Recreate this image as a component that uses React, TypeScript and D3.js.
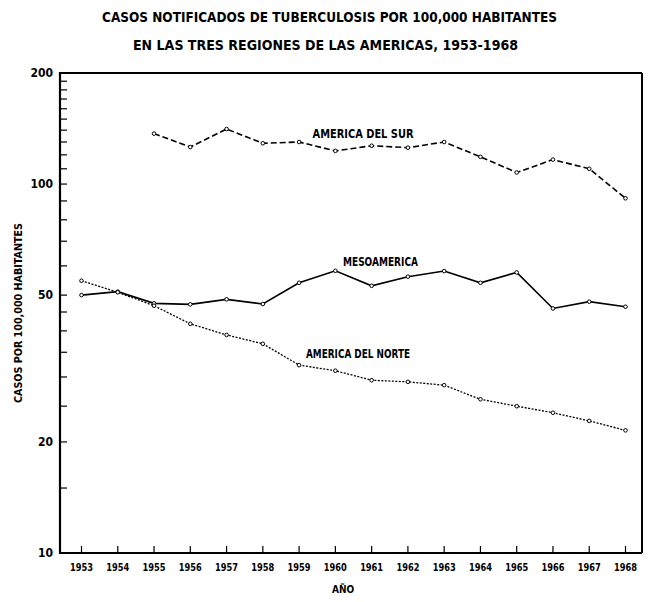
import React from "react";
import * as d3 from "d3";

const years = [1953, 1954, 1955, 1956, 1957, 1958, 1959, 1960, 1961, 1962, 1963, 1964, 1965, 1966, 1967, 1968];
const surYears = [1955, 1956, 1957, 1958, 1959, 1960, 1961, 1962, 1963, 1964, 1965, 1966, 1967, 1968];
const surValues = [137, 126, 141, 129, 130, 123, 127, 125.5, 130, 118.5, 107.5, 116.5, 110, 91.5];
const mesoValues = [50, 51.1, 47.5, 47.2, 48.7, 47.3, 54, 58.2, 53, 56.1, 58.1, 54, 57.6, 46, 48, 46.5];
const norteValues = [54.7, 50.9, 46.8, 41.8, 39, 36.9, 32.3, 31.2, 29.4, 29.1, 28.5, 26.1, 25, 24, 22.8, 21.5];
const yMajorTicks = [10, 20, 50, 100, 200];
const yMinorTicks = [15, 25, 30, 35, 40, 45, 60, 70, 80, 90, 110, 120, 130, 140, 150, 160, 170, 180, 190];

const titleLines = [
  "CASOS NOTIFICADOS DE TUBERCULOSIS POR 100,000 HABITANTES",
  "EN LAS TRES REGIONES DE LAS AMERICAS, 1953-1968",
];
const yLabel = "CASOS POR 100,000 HABITANTES";
const xLabel = "AÑO";
const seriesLabels = ["AMERICA DEL SUR", "MESOAMERICA", "AMERICA DEL NORTE"];

const FONT = "'Liberation Sans Narrow', 'DejaVu Sans Condensed', 'Roboto Condensed', sans-serif";

export default function App() {
  const W = 654, H = 602;
  const left = 60, right = 642, top = 73, bottom = 553;
  const x = d3.scaleLinear().domain([1953, 1968]).range([81.5, 625.5]);
  const y = d3.scaleLog().domain([10, 200]).range([bottom, top]);

  const line = d3.line<[number, number]>().x(d => x(d[0])).y(d => y(d[1]));
  const sur: [number, number][] = surYears.map((yr, i) => [yr, surValues[i]]);
  const meso: [number, number][] = years.map((yr, i) => [yr, mesoValues[i]]);
  const norte: [number, number][] = years.map((yr, i) => [yr, norteValues[i]]);

  const markers = (pts: [number, number][], key: string) =>
    pts.map((p, i) => (
      <circle key={key + i} cx={x(p[0])} cy={y(p[1])} r={1.8} fill="#fff" stroke="#000" strokeWidth={1} />
    ));

  return (
    <svg width={W} height={H} style={{ position: "absolute", left: 0, top: 0, background: "#fff" }}>
      <rect x={0} y={0} width={W} height={H} fill="#fff" />
      {/* Title */}
      <text x={329.5} y={22} textAnchor="middle" fontFamily={FONT} fontWeight="bold" fontSize={13.5}
        textLength={455} lengthAdjust="spacingAndGlyphs">{titleLines[0]}</text>
      <text x={325.5} y={49.5} textAnchor="middle" fontFamily={FONT} fontWeight="bold" fontSize={13.5}
        textLength={385} lengthAdjust="spacingAndGlyphs">{titleLines[1]}</text>

      {/* Frame */}
      <line x1={left} y1={top} x2={right} y2={top} stroke="#000" strokeWidth={2} />
      <line x1={right} y1={top} x2={right} y2={bottom} stroke="#000" strokeWidth={2} />
      <line x1={left} y1={top - 1} x2={left} y2={bottom + 1} stroke="#000" strokeWidth={2.2} />
      <line x1={left} y1={bottom} x2={right} y2={bottom} stroke="#000" strokeWidth={2} />

      {/* Y ticks */}
      {yMinorTicks.map(t => (
        <line key={"mn" + t} x1={left} x2={left + 7} y1={y(t)} y2={y(t)} stroke="#000" strokeWidth={1.2} />
      ))}
      {yMajorTicks.map(t => (
        <g key={"mj" + t}>
          {t !== 10 && t !== 200 && <line x1={left} x2={left + 7} y1={y(t)} y2={y(t)} stroke="#000" strokeWidth={1.2} />}
          <text x={53} y={y(t) + 4} textAnchor="end" fontFamily={FONT} fontWeight="bold" fontSize={12}>{t}</text>
        </g>
      ))}

      {/* X ticks */}
      {years.map(yr => (
        <g key={"x" + yr}>
          <line x1={x(yr)} x2={x(yr)} y1={bottom} y2={bottom - 7} stroke="#000" strokeWidth={1.2} />
          <text x={x(yr)} y={571} textAnchor="middle" fontFamily={FONT} fontWeight="bold" fontSize={10.5}
            textLength={23} lengthAdjust="spacingAndGlyphs">{yr}</text>
        </g>
      ))}

      {/* Axis labels */}
      <text x={343} y={593} textAnchor="middle" fontFamily={FONT} fontWeight="bold" fontSize={10}>{xLabel}</text>
      <text transform="translate(22,313) rotate(-90)" textAnchor="middle" fontFamily={FONT} fontWeight="bold"
        fontSize={10.5} textLength={180} lengthAdjust="spacingAndGlyphs">{yLabel}</text>

      {/* Series */}
      <path d={line(sur) || ""} fill="none" stroke="#000" strokeWidth={1.6} strokeDasharray="6,3" />
      <path d={line(meso) || ""} fill="none" stroke="#000" strokeWidth={1.6} />
      <path d={line(norte) || ""} fill="none" stroke="#000" strokeWidth={1.3} strokeDasharray="2,1.5" />
      {markers(sur, "s")}
      {markers(meso, "m")}
      {markers(norte, "n")}

      {/* Series labels */}
      <text x={312.5} y={138} fontFamily={FONT} fontWeight="bold" fontSize={11.5} textLength={101}
        lengthAdjust="spacingAndGlyphs">{seriesLabels[0]}</text>
      <text x={343} y={266} fontFamily={FONT} fontWeight="bold" fontSize={11.5} textLength={75}
        lengthAdjust="spacingAndGlyphs">{seriesLabels[1]}</text>
      <text x={306} y={357.5} fontFamily={FONT} fontWeight="bold" fontSize={11.5} textLength={104}
        lengthAdjust="spacingAndGlyphs">{seriesLabels[2]}</text>
    </svg>
  );
}
